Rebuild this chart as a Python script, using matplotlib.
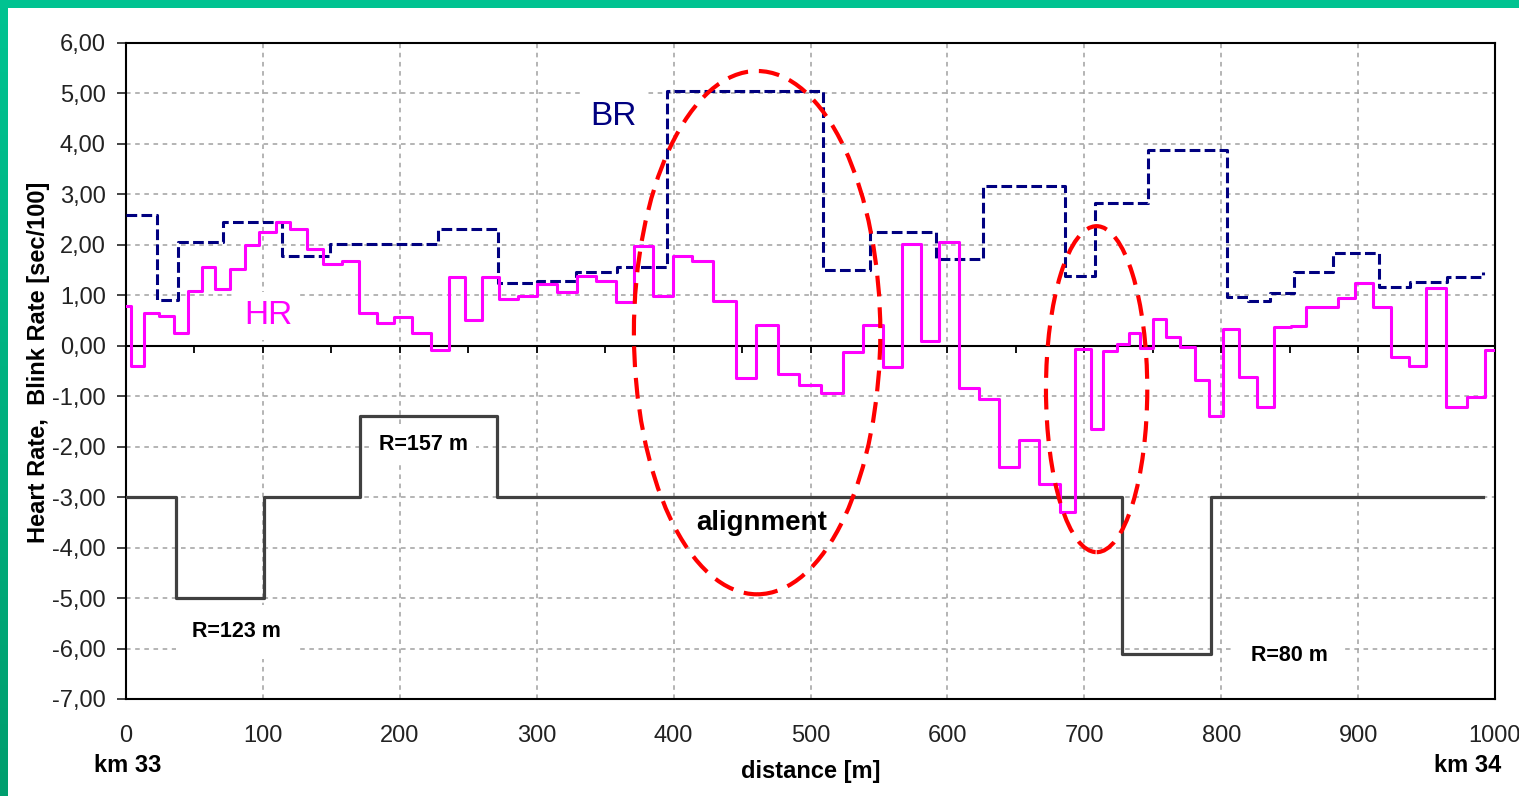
import numpy as np
import matplotlib
matplotlib.use('Agg')
import matplotlib.pyplot as plt
from matplotlib.patches import Ellipse
from matplotlib.ticker import FuncFormatter

plt.rcParams['font.family'] = ['Liberation Sans', 'DejaVu Sans']

# Heart rate (step, start of each segment)
hr_x = [0, 3.4, 13.4, 24.3, 35, 45.5, 55.3, 65.3, 76, 87, 97, 109.6, 119.8, 132, 144,
        157.5, 170.4, 183, 195.7, 208.9, 222.5, 236, 247.9, 260.3, 272.7, 286.6, 300,
        314.6, 329.2, 343, 357.7, 371.3, 385.2, 399.3, 413.7, 429, 445.6, 460.2, 476,
        491.6, 508, 524, 538.6, 553, 566.6, 581, 594, 608.5, 623, 638, 652.5, 667,
        682.3, 693.2, 705, 714, 723.6, 733, 740.7, 750.4, 760, 770, 781, 791, 801.6,
        813.3, 826.4, 838.6, 850.8, 862, 885.6, 897.7, 910.7, 924, 937.4, 949.6, 964.2,
        979.3, 992.7, 1000]
hr_y = [0.79, -0.41, 0.64, 0.59, 0.25, 1.09, 1.57, 1.12, 1.53, 2.0, 2.25, 2.46, 2.31,
        1.92, 1.62, 1.67, 0.64, 0.46, 0.58, 0.25, -0.08, 1.36, 0.52, 1.36, 0.92, 0.99,
        1.22, 1.07, 1.38, 1.28, 0.87, 1.98, 0.99, 1.77, 1.67, 0.89, -0.64, 0.42, -0.55,
        -0.78, -0.93, -0.12, 0.42, -0.43, 2.01, 0.1, 2.05, -0.84, -1.06, -2.40, -1.87,
        -2.73, -3.30, -0.06, -1.64, -0.10, 0.03, 0.25, -0.05, 0.54, 0.17, -0.03, -0.68,
        -1.39, 0.33, -0.61, -1.21, 0.37, 0.40, 0.77, 0.94, 1.24, 0.77, -0.23, -0.40,
        1.14, -1.22, -1.01, -0.08, -0.08]

# Blink rate (step)
br_x = [0, 22.6, 38, 71, 113.7, 149, 228, 272, 300, 329, 358.6, 395, 509, 543.5, 591.7,
        626, 686, 708, 746.5, 804, 819.6, 835.6, 853, 882, 915, 938, 964.7, 991]
br_y = [2.59, 0.91, 2.06, 2.46, 1.78, 2.02, 2.31, 1.24, 1.29, 1.46, 1.57, 5.05, 1.50,
        2.25, 1.72, 3.17, 1.39, 2.83, 3.87, 0.97, 0.89, 1.04, 1.47, 1.84, 1.16, 1.27,
        1.36, 1.47]

# Road alignment (curve radius sections)
al_x = [0, 36.5, 100.8, 171, 271, 727.5, 792.5, 991]
al_y = [-3, -5, -3, -1.4, -3, -6.1, -3, -3]

# highlighted zones: (centre x, centre y, width, height)
zones = [(461, 0.26, 180, 10.37), (709, -0.86, 74, 6.46)]

fig = plt.figure(figsize=(15.19, 7.96), dpi=100)
fig.subplots_adjust(left=126/1519, right=1495/1519, top=1-43/796, bottom=1-699/796)
ax = fig.add_subplot(111)

# green frame
top_band = fig.add_axes([0, 1-8/796, 1, 8/796])
top_band.set_axis_off()
top_band.add_patch(plt.Rectangle((0, 0), 1, 1, color='#00C391', transform=top_band.transAxes))
left_band = fig.add_axes([0, 0, 8/1519, 1])
grad = np.linspace(0, 1, 100).reshape(-1, 1)
left_band.imshow(grad, aspect='auto', cmap=matplotlib.colors.LinearSegmentedColormap.from_list(
    'g', ['#00C391', '#009E6E']), extent=[0, 1, 0, 1])
left_band.set_axis_off()

ax.set_xlim(0, 1000)
ax.set_ylim(-7, 6)
ax.set_xticks(np.arange(0, 1001, 100))
ax.set_yticks(np.arange(-7, 6.1, 1))
ax.yaxis.set_major_formatter(FuncFormatter(lambda v, p: f'{v:.2f}'.replace('.', ',')))
ax.grid(True, color='#a0a0a0', linestyle=(0, (3, 3)), linewidth=1.1, zorder=0)
ax.tick_params(axis='x', length=0, pad=19, labelsize=17, colors='#222222')
ax.tick_params(axis='y', length=6.5, width=1.2, pad=8, labelsize=17, colors='#222222')
for s in ax.spines.values():
    s.set_linewidth(1.5)

# zero line with small ticks
ax.axhline(0, color='black', linewidth=1.5, zorder=2)
ticks50 = np.arange(50, 1000, 50)
ax.plot(ticks50, np.zeros_like(ticks50), linestyle='none', marker=3, markersize=5,
        color='black', markeredgewidth=1.3, zorder=2)

ax.step(al_x, al_y, where='post', color='#404040', linewidth=2.3, zorder=3)
ax.step(br_x, br_y, where='post', color='#000080', linewidth=2.2,
        linestyle=(0, (3.5, 1.4)), zorder=4)
ax.step(hr_x, hr_y, where='post', color='#FF00FF', linewidth=2.2, zorder=5)

for cx, cy, w, h in zones:
    ax.add_patch(Ellipse((cx, cy), w, h, fill=False, edgecolor='#FF0000', linewidth=3,
                         linestyle=(0, (5, 2.6)), zorder=6))

box = dict(facecolor='white', edgecolor='none', pad=6)
ax.text(355.7, 4.55, 'BR', color='#000080', fontsize=24, ha='center', va='center',
        bbox=box, zorder=3)
ax.text(103.7, 0.59, 'HR', color='#FF00FF', fontsize=24, ha='center', va='center',
        bbox=box, zorder=3)
ax.text(464.6, -3.51, 'alignment', fontsize=20, fontweight='bold', ha='center',
        va='center', zorder=7)
ax.text(217, -1.95, 'R=157 m', fontsize=15.5, fontweight='bold', ha='center', va='center',
        bbox=box, zorder=2.5)
ax.text(81, -5.67, 'R=123 m', fontsize=15.5, fontweight='bold', ha='center', va='center',
        bbox=dict(facecolor='white', edgecolor='none', pad=12), zorder=2.5)
ax.text(849.5, -6.13, 'R=80 m', fontsize=15.5, fontweight='bold', ha='center', va='center',
        bbox=dict(facecolor='white', edgecolor='none', pad=12), zorder=2.5)

ax.set_xlabel('distance [m]', fontsize=17, fontweight='bold', va='center')
ax.xaxis.set_label_coords(0.5, -0.111)
ax.set_ylabel('Heart Rate,  Blink Rate [sec/100]', fontsize=17, fontweight='bold',
              va='center')
ax.yaxis.set_label_coords(-0.064, 0.514)

fig.text(128/1519, 1-766/796, 'km 33', fontsize=17, fontweight='bold', ha='center',
         va='center')
fig.text(1468/1519, 1-765/796, 'km 34', fontsize=17, fontweight='bold', ha='center',
         va='center')

fig.savefig('out.png', dpi=100)
